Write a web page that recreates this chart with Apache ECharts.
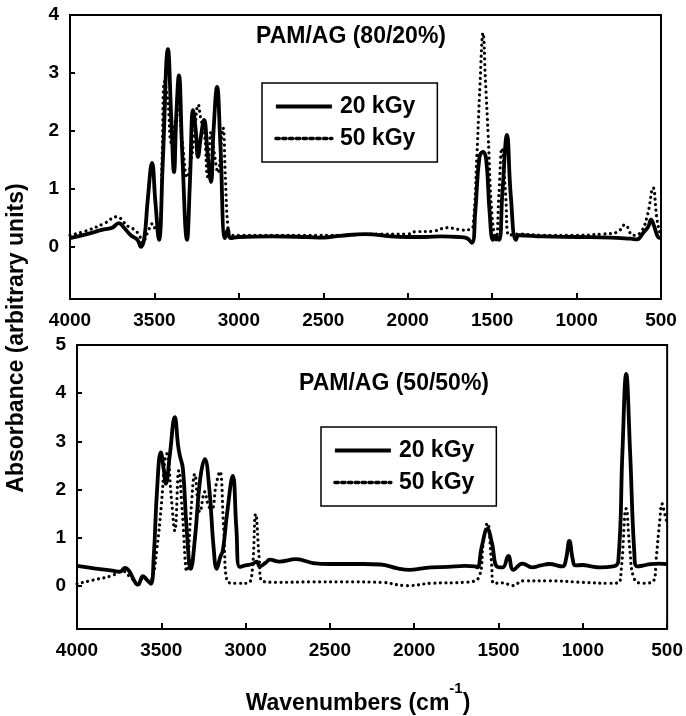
<!DOCTYPE html>
<html>
<head>
<meta charset="utf-8">
<script src="https://cdn.jsdelivr.net/npm/echarts@6/dist/echarts.min.js"></script>
<style>html,body{margin:0;padding:0;background:#fff;}#c{width:686px;height:716px;}</style>
</head>
<body>
<div id="c"></div>
<script>
// ---- Data (wavenumber cm^-1, absorbance) ----
const xTicks = [4000, 3500, 3000, 2500, 2000, 1500, 1000, 500];
const topYTicks = [0, 1, 2, 3, 4];
const botYTicks = [0, 1, 2, 3, 4, 5];
const topTitle = 'PAM/AG (80/20%)';
const botTitle = 'PAM/AG (50/50%)';
const seriesNames = ['20 kGy', '50 kGy'];

const topWn20 = [4000,3900,3800,3750,3710,3680,3640,3600,3580,3560,3540,3514,3495,3473,3450,3420,3400,3384,3370,3355,3335,3307,3290,3271,3255,3242,3225,3206,3185,3165,3150,3129,3110,3082,3065,3050,3000,2800,2600,2500,2400,2250,2100,2000,1900,1800,1700,1650,1620,1600,1575,1554,1535,1515,1495,1480,1459,1440,1412,1390,1359,1340,1200,1000,800,680,642,606,575,559,540,518,500];
const topAbs20 = [0.15,0.22,0.3,0.33,0.41,0.33,0.2,0.12,0.0,0.15,0.8,1.45,0.8,0.12,1.5,3.41,2.2,1.29,2.3,2.96,1.6,0.12,1.1,2.36,2.0,1.55,1.9,2.19,1.6,1.12,2.0,2.76,1.8,0.15,0.3,0.15,0.17,0.18,0.17,0.16,0.19,0.22,0.18,0.17,0.17,0.18,0.17,0.15,0.07,0.6,1.55,1.64,1.5,0.6,0.12,0.18,0.12,0.9,1.93,0.9,0.12,0.2,0.18,0.17,0.16,0.14,0.13,0.24,0.35,0.47,0.35,0.17,0.15];

const topWn50 = [4000,3900,3800,3720,3680,3650,3620,3590,3570,3540,3510,3490,3470,3455,3440,3420,3400,3380,3360,3335,3305,3285,3265,3240,3225,3205,3185,3165,3145,3124,3094,3080,3065,3050,3000,2800,2600,2400,2200,2000,1957,1850,1767,1700,1673,1630,1613,1590,1572,1554,1540,1524,1500,1477,1460,1442,1420,1400,1350,1200,1000,850,760,713,666,620,580,547,525,505,500];
const topAbs50 = [0.2,0.28,0.4,0.52,0.42,0.34,0.3,0.2,0.07,0.25,0.4,0.3,0.3,1.5,2.85,2.5,1.8,2.1,2.4,1.8,1.2,1.45,1.9,2.45,2.2,2.0,1.21,1.98,1.6,1.28,2.05,1.2,0.35,0.2,0.2,0.2,0.2,0.2,0.22,0.22,0.26,0.27,0.33,0.3,0.29,0.3,0.35,1.6,2.8,3.69,2.9,1.96,0.5,0.12,0.9,1.7,0.9,0.2,0.22,0.2,0.2,0.22,0.25,0.38,0.2,0.25,0.55,1.02,0.5,0.22,0.2];

const botWn20 = [4000,3900,3800,3745,3716,3690,3660,3639,3609,3585,3562,3545,3525,3503,3485,3473,3450,3420,3400,3390,3372,3350,3325,3300,3270,3242,3215,3190,3171,3150,3135,3110,3076,3055,3035,3000,2960,2934,2916,2880,2857,2800,2700,2600,2500,2400,2300,2200,2100,2028,1950,1900,1800,1700,1640,1625,1600,1566,1540,1507,1475,1442,1412,1359,1300,1250,1200,1120,1100,1080,1060,1045,1000,950,900,820,790,765,743,720,695,678,640,600,550,500];
const botAbs20 = [0.41,0.36,0.32,0.29,0.37,0.3,0.1,0.02,0.2,0.12,0.04,0.6,2.0,2.77,2.4,2.12,2.7,3.5,2.9,2.7,2.43,1.2,0.35,1.0,2.2,2.63,2.0,0.8,0.35,0.6,0.73,1.5,2.28,1.2,0.39,0.42,0.45,0.5,0.4,0.48,0.54,0.5,0.55,0.47,0.45,0.45,0.45,0.44,0.36,0.33,0.36,0.38,0.39,0.41,0.4,0.38,0.8,1.18,0.9,0.39,0.38,0.62,0.33,0.46,0.38,0.42,0.45,0.4,0.55,0.93,0.55,0.42,0.43,0.4,0.38,0.4,0.5,2.8,4.4,2.8,0.7,0.4,0.42,0.45,0.46,0.45];

const botWn50 = [4000,3900,3800,3727,3690,3660,3640,3610,3570,3550,3526,3500,3479,3467,3440,3420,3396,3375,3349,3325,3301,3285,3272,3242,3220,3200,3175,3153,3130,3106,3050,2990,2964,2940,2920,2904,2800,2600,2400,2200,2040,1900,1700,1613,1590,1566,1542,1530,1470,1420,1350,1200,1000,850,790,773,743,720,696,650,580,565,545,530,515,500];
const botAbs50 = [0.04,0.12,0.2,0.3,0.2,0.1,0.0,0.15,0.1,0.2,0.77,1.66,2.6,2.74,1.8,1.14,2.39,1.5,0.3,1.5,2.32,1.8,1.53,1.95,1.65,1.6,2.1,2.37,1.2,0.08,0.05,0.05,0.2,1.49,0.6,0.1,0.07,0.08,0.08,0.07,0.0,0.05,0.07,0.2,0.9,1.3,0.5,0.05,0.06,0.0,0.1,0.1,0.07,0.05,0.06,0.3,1.6,0.7,0.15,0.05,0.1,0.56,1.3,1.7,1.5,1.3];

// ---- Build ----
const FONT = '"Liberation Sans", Arial, Helvetica, sans-serif';
const zip = (a, b) => a.map((w, i) => [w, b[i]]);

const chart = echarts.init(document.getElementById('c'), null, {renderer: 'canvas'});

const solid = {color: '#000', width: 3.8, type: 'solid'};
const dotted = {color: '#000', width: 3.2, type: [0.01, 5.5], cap: 'round'};

function xAxisFor(gi) {
  return {
    type: 'value', gridIndex: gi, min: 500, max: 4000, interval: 500, inverse: true,
    axisLine: {show: true, onZero: false, lineStyle: {color: '#000', width: 2}},
    axisTick: {show: true, inside: true, length: 6, lineStyle: {color: '#000', width: 2}},
    axisLabel: {show: true, color: '#000', fontSize: 19, fontWeight: 'bold', fontFamily: FONT, margin: 12,
      customValues: xTicks, formatter: v => String(v)},
    splitLine: {show: false}
  };
}
function yAxisFor(gi, max, ticks) {
  return {
    type: 'value', gridIndex: gi, min: -0.9, max: max,
    axisLine: {show: true, onZero: false, lineStyle: {color: '#000', width: 2}},
    axisTick: {show: true, inside: true, length: 5, lineStyle: {color: '#000', width: 2}, customValues: ticks},
    axisLabel: {show: true, color: '#000', fontSize: 19, fontWeight: 'bold', fontFamily: FONT, margin: 11,
      customValues: ticks, formatter: v => String(v)},
    splitLine: {show: false}
  };
}

function lineSeries(name, data, xi, style) {
  return {
    name: name, type: 'line', xAxisIndex: xi, yAxisIndex: xi, data: data,
    showSymbol: false, symbol: 'none', smooth: 0.45, lineStyle: style, itemStyle: {color: '#000'},
    animation: false, z: name === '20 kGy' ? 3 : 2
  };
}

function legendFor(left, top) {
  return {
    left: left, top: top, orient: 'vertical', selectedMode: false,
    data: [
      {name: seriesNames[0], itemStyle: {opacity: 0}, lineStyle: {color: '#000', width: 3.8, type: 'solid'}},
      {name: seriesNames[1], itemStyle: {opacity: 0}, lineStyle: {color: '#000', width: 3.4, type: 'dotted'}}
    ],
    itemWidth: 56, itemHeight: 14, itemGap: 9, padding: [12, 22, 12, 12],
    borderColor: '#000', borderWidth: 1.5, backgroundColor: '#fff',
    textStyle: {color: '#000', fontSize: 23, fontWeight: 'bold', fontFamily: FONT, padding: [0, 0, 0, 3]}
  };
}

const option = {
  backgroundColor: '#fff',
  animation: false,
  grid: [
    {left: 70, top: 15, width: 591, height: 284, show: true, borderColor: '#000', borderWidth: 2, backgroundColor: 'transparent'},
    {left: 77, top: 345, width: 591, height: 284, show: true, borderColor: '#000', borderWidth: 2, backgroundColor: 'transparent'}
  ],
  xAxis: [xAxisFor(0), xAxisFor(1)],
  yAxis: [yAxisFor(0, 4, topYTicks), yAxisFor(1, 5, botYTicks)],
  legend: [legendFor(262, 83), legendFor(321, 427)],
  series: [
    lineSeries(seriesNames[1], zip(topWn50, topAbs50), 0, dotted),
    lineSeries(seriesNames[0], zip(topWn20, topAbs20), 0, solid),
    lineSeries(seriesNames[1], zip(botWn50, botAbs50), 1, dotted),
    lineSeries(seriesNames[0], zip(botWn20, botAbs20), 1, solid)
  ],
  graphic: [
    {type: 'text', x: 351, y: 37, style: {text: topTitle, font: 'bold 23px ' + FONT, fill: '#000', align: 'center', verticalAlign: 'middle'}},
    {type: 'text', x: 394, y: 384, style: {text: botTitle, font: 'bold 23px ' + FONT, fill: '#000', align: 'center', verticalAlign: 'middle'}},
    {type: 'text', x: 17, y: 338, rotation: Math.PI / 2,
      style: {text: 'Absorbance (arbitrary units)', font: 'bold 23px ' + FONT, fill: '#000', align: 'center', verticalAlign: 'middle'}},
    {type: 'text', x: 358, y: 698,
      style: {text: '{a|Wavenumbers (cm}{b|-1}{a|)}', fill: '#000', align: 'center', verticalAlign: 'middle',
        rich: {
          a: {fontSize: 23, fontWeight: 'bold', fontFamily: FONT, lineHeight: 34, verticalAlign: 'bottom', fill: '#000'},
          b: {fontSize: 15, fontWeight: 'bold', fontFamily: FONT, lineHeight: 16, verticalAlign: 'top', fill: '#000'}
        }}}
  ]
};
chart.setOption(option);
</script>
</body>
</html>
